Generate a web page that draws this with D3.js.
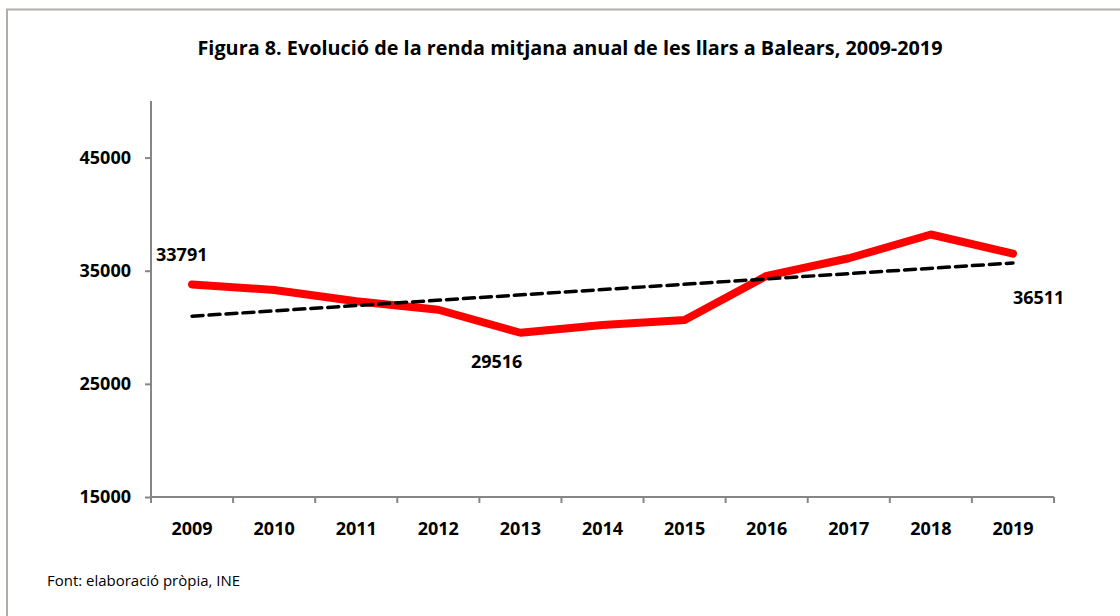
<!DOCTYPE html>
<html>
<head>
<meta charset="utf-8">
<script src="https://cdn.jsdelivr.net/npm/d3@7"></script>
<style>
  body { margin: 0; background: #fff; }
  svg { display: block; }
</style>
</head>
<body>
<div id="box"></div>
<script>
// canvas
const width = 1120
const height = 616
const margin = {top: 101, right: 66, bottom: 119, left: 151}

// data
const years = ['2009', '2010', '2011', '2012', '2013', '2014', '2015', '2016', '2017', '2018', '2019']
const renda = [33791, 33300, 32300, 31550, 29516, 30200, 30650, 34550, 36100, 38200, 36511]
const yTicks = [15000, 25000, 35000, 45000]
const labelled = {'2009': 33791, '2013': 29516, '2019': 36511}

const title = 'Figura 8. Evolució de la renda mitjana anual de les llars a Balears, 2009-2019'
const source = 'Font: elaboració pròpia, INE'

const font = "'Open Sans', 'DejaVu Sans', sans-serif"

const svg = d3.select('#box').append('svg')
  .attr('width', width)
  .attr('height', height)
  .style('font-family', font)

// outer frame (only top and left are visible)
svg.append('path')
  .attr('d', `M7,${height} V9.5 H${width}`)
  .attr('fill', 'none')
  .attr('stroke', '#b3aca6')
  .attr('stroke-width', 2)

// scales
const x = d3.scaleBand().domain(years).range([margin.left, width - margin.right])
const y = d3.scaleLinear().domain([15000, 50000]).range([height - margin.bottom, margin.top])
const cx = d => x(d) + x.bandwidth() / 2

// axes
const axisColor = '#868686'
const yAxis = svg.append('g')
  .attr('transform', `translate(${margin.left},0)`)
  .call(d3.axisLeft(y).tickValues(yTicks).tickSize(6).tickPadding(14).tickFormat(d3.format('d')))
yAxis.select('.domain').attr('stroke', axisColor).attr('stroke-width', 2)
  .attr('d', `M0,${margin.top}V${height - margin.bottom}`)
yAxis.selectAll('.tick line').attr('stroke', axisColor).attr('stroke-width', 2)
yAxis.selectAll('.tick text')
  .attr('fill', '#000')
  .style('font', `bold 18px ${font}`)

const xAxis = svg.append('g')
  .attr('transform', `translate(0,${height - margin.bottom})`)
  .call(d3.axisBottom(x).tickSize(0).tickPadding(25))
xAxis.select('.domain').attr('stroke', axisColor).attr('stroke-width', 2)
  .attr('d', `M${margin.left},0H${width - margin.right}`)
xAxis.selectAll('.tick text')
  .attr('fill', '#000')
  .style('font', `bold 18px ${font}`)
// category separators as ticks
xAxis.selectAll('.sep')
  .data(years.concat(['end']))
  .join('line')
  .attr('class', 'sep')
  .attr('x1', (d, i) => margin.left + i * x.step())
  .attr('x2', (d, i) => margin.left + i * x.step())
  .attr('y1', 0)
  .attr('y2', 6)
  .attr('stroke', axisColor)
  .attr('stroke-width', 2)

// linear trend (least squares, like the spreadsheet trendline)
const idx = d3.range(years.length)
const mx = d3.mean(idx)
const my = d3.mean(renda)
const slope = d3.sum(idx, i => (i - mx) * (renda[i] - my)) / d3.sum(idx, i => (i - mx) ** 2)
const intercept = my - slope * mx
const trend = [0, years.length - 1].map(i => ({year: years[i], value: intercept + slope * i}))

const line = d3.line().x(d => cx(d.year)).y(d => y(d.value))
const series = years.map((yr, i) => ({year: yr, value: renda[i]}))

svg.append('path')
  .datum(series)
  .attr('d', line)
  .attr('fill', 'none')
  .attr('stroke', '#ff0000')
  .attr('stroke-width', 8)
  .attr('stroke-linejoin', 'round')
  .attr('stroke-linecap', 'round')

svg.append('path')
  .datum(trend)
  .attr('d', line)
  .attr('fill', 'none')
  .attr('stroke', '#000')
  .attr('stroke-width', 3.5)
  .attr('stroke-dasharray', '11,6')
  .attr('stroke-linecap', 'round')

// data labels
const labelPos = {
  '2009': {dx: -36, dy: -23, anchor: 'start'},
  '2013': {dx: 2, dy: 35, anchor: 'end'},
  '2019': {dx: 0, dy: 50, anchor: 'start'}
}
svg.append('g')
  .selectAll('text')
  .data(Object.entries(labelled))
  .join('text')
  .attr('x', d => cx(d[0]) + labelPos[d[0]].dx)
  .attr('y', d => y(d[1]) + labelPos[d[0]].dy)
  .attr('text-anchor', d => labelPos[d[0]].anchor)
  .style('font', `bold 18px ${font}`)
  .attr('fill', '#000')
  .text(d => d[1])

// title
svg.append('text')
  .attr('x', 570)
  .attr('y', 55)
  .attr('text-anchor', 'middle')
  .attr('textLength', 745)
  .attr('lengthAdjust', 'spacingAndGlyphs')
  .style('font', `bold 19px ${font}`)
  .text(title)

// source note
svg.append('text')
  .attr('x', 47)
  .attr('y', 586)
  .attr('textLength', 193)
  .attr('lengthAdjust', 'spacingAndGlyphs')
  .style('font', `14.5px ${font}`)
  .text(source)
</script>
</body>
</html>
